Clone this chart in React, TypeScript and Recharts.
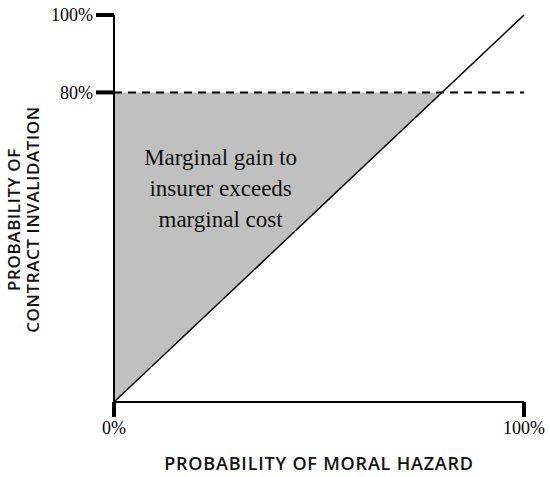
import { ComposedChart, XAxis, YAxis, Line, Area, ReferenceLine, ReferenceDot, Label } from 'recharts';

const xTicks = [0, 100];
const yTicks = [80, 100];
const threshold = 80;
const diagonal = [
  { x: 0, y: 0 },
  { x: 100, y: 100 },
];
const gainRegion = [
  { x: 0, band: [0, 80] },
  { x: 80, band: [80, 80] },
];
const regionText = ['Marginal gain to', 'insurer exceeds', 'marginal cost'];
const regionAnchor = { x: 26, y: 55 };
const xTitle = 'PROBABILITY OF MORAL HAZARD';
const yTitle = ['PROBABILITY OF', 'CONTRACT INVALIDATION'];

const SERIF = '"Liberation Serif", serif';
const SANS = '"Open Sans", sans-serif';

const tickStyle = { fill: '#000', fontSize: 18, fontFamily: SERIF };

const RegionText = ({ cx, cy }: any) => (
  <text x={cx} y={cy - 24} textAnchor="middle" fontFamily={SERIF} fontSize={23} fill="#111">
    {regionText.map((line, i) => (
      <tspan key={i} x={cx} dy={i === 0 ? 0 : 31}>
        {line}
      </tspan>
    ))}
  </text>
);

const YTitle = ({ viewBox }: any) => {
  const cy = viewBox.y + viewBox.height / 2 + 11;
  return (
    <text
      transform={`translate(0, ${cy}) rotate(-90)`}
      textAnchor="middle"
      fontFamily={SANS}
      fontWeight={600}
      fontSize={17}
      letterSpacing={0.6}
      fill="#111"
    >
      {yTitle.map((line, i) => (
        <tspan key={i} x={0} y={i === 0 ? 20 : 39}>
          {line}
        </tspan>
      ))}
    </text>
  );
};

export default function App() {
  return (
    <div>
      <style>{'body{margin:0}'}</style>
      <ComposedChart width={550} height={477} margin={{ top: 15, right: 26, left: 0, bottom: 0 }}>
        <XAxis
          type="number"
          dataKey="x"
          domain={[0, 100]}
          ticks={xTicks}
          tickFormatter={(v) => `${v}%`}
          axisLine={{ stroke: '#000', strokeWidth: 2 }}
          tickLine={{ stroke: '#000', strokeWidth: 4 }}
          tickSize={15}
          tickMargin={4}
          tick={tickStyle}
          height={75}
        >
          <Label
            value={xTitle}
            position="insideBottom"
            offset={7}
            style={{ fontFamily: SANS, fontWeight: 600, fontSize: 18, letterSpacing: 0.8, fill: '#111' }}
          />
        </XAxis>
        <YAxis
          type="number"
          domain={[0, 100]}
          ticks={yTicks}
          tickFormatter={(v) => `${v}%`}
          axisLine={{ stroke: '#000', strokeWidth: 2 }}
          tickLine={{ stroke: '#000', strokeWidth: 4 }}
          tickSize={18}
          tickMargin={3}
          tick={tickStyle}
          width={114}
        >
          <Label content={<YTitle />} />
        </YAxis>
        <Area
          data={gainRegion}
          dataKey="band"
          type="linear"
          fill="#c0c0c0"
          fillOpacity={1}
          stroke="none"
          isAnimationActive={false}
        />
        <ReferenceLine y={threshold} stroke="#000" strokeWidth={2} strokeDasharray="8 6" />
        <Line
          data={diagonal}
          dataKey="y"
          type="linear"
          stroke="#000"
          strokeWidth={1.5}
          dot={false}
          isAnimationActive={false}
        />
        <ReferenceDot x={regionAnchor.x} y={regionAnchor.y} r={0} shape={<RegionText />} />
      </ComposedChart>
    </div>
  );
}
